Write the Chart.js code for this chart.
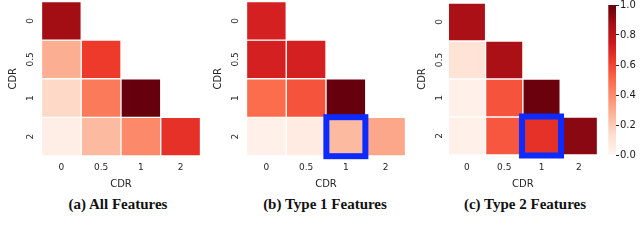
<!DOCTYPE html>
<html>
<head>
<meta charset="utf-8">
<script src="https://cdn.jsdelivr.net/npm/chart.js@4"></script>
<style>
    body { margin: 0; background: #fff; width: 640px; height: 244px; overflow: hidden; position: relative; }
    canvas { position: absolute; }
    .caption {
        position: absolute; top: 197px; width: 200px; text-align: center;
        font: bold 15px/15px "Liberation Serif", serif; color: #111; white-space: nowrap;
    }
</style>
</head>
<body>
<canvas id="chartA" width="205" height="196" style="left:0px;top:0px"></canvas>
<canvas id="chartB" width="205" height="196" style="left:205px;top:0px"></canvas>
<canvas id="chartC" width="190" height="196" style="left:410px;top:0px"></canvas>
<canvas id="colorbar" width="40" height="180" style="left:600px;top:-10px"></canvas>
<div class="caption" style="left:18px">(a) All Features</div>
<div class="caption" style="left:225px">(b) Type 1 Features</div>
<div class="caption" style="left:425px">(c) Type 2 Features</div>
<script>
// CDR levels used on both axes
const cdrLabels = ['0', '0.5', '1', '2'];

// lower triangle, row by row (row = y label, col = x label)
const allFeatures = [
    [0.88],
    [0.29, 0.63],
    [0.15, 0.45, 1.0],
    [0.04, 0.25, 0.40, 0.66],
];
const type1Features = [
    [0.72],
    [0.72, 0.72],
    [0.49, 0.56, 1.0],
    [0.03, 0.06, 0.25, 0.31],
];
const type2Features = [
    [0.86],
    [0.11, 0.86],
    [0.03, 0.56, 0.99],
    [0.03, 0.55, 0.66, 0.93],
];

// highlighted cell [row, col]
const type1Highlight = [3, 2];
const type2Highlight = [3, 2];

const colorbarMin = 0;
const colorbarMax = 1;
const colorbarStep = 0.2;

// matplotlib "Reds"
const REDS = ['#fff5f0', '#fee0d2', '#fcbba1', '#fc9272', '#fb6a4a', '#ef3b2c', '#cb181d', '#a50f15', '#67000d'];
const TEXT = '#262626';

Chart.defaults.font.family = "'DejaVu Sans', sans-serif";
Chart.defaults.color = TEXT;

const hexToRgb = (h) => [1, 3, 5].map(i => parseInt(h.slice(i, i + 2), 16));

const reds = (v) => {
    const t = Math.min(Math.max(v, 0), 1) * (REDS.length - 1);
    const i = Math.min(Math.floor(t), REDS.length - 2);
    const f = t - i;
    const a = hexToRgb(REDS[i]);
    const b = hexToRgb(REDS[i + 1]);
    const c = a.map((x, k) => Math.round(x + (b[k] - x) * f));
    return `rgb(${c[0]},${c[1]},${c[2]})`;
};

const highlightPlugin = (cell) => ({
    id: 'highlight',
    afterDatasetsDraw(chart) {
        if (!cell) return;
        const { ctx, scales: { x, y } } = chart;
        const cx = x.getPixelForValue(cell[1]);
        const cy = y.getPixelForValue(cell[0]);
        ctx.save();
        ctx.strokeStyle = '#0d2bff';
        ctx.lineWidth = 6;
        ctx.strokeRect(cx - 19.5, cy - 19.5, 39, 39);
        ctx.restore();
    },
});

const drawHeatmap = (id, values, cell, geo) => {
    const datasets = values.map((row, r) => ({
        data: cdrLabels.map((_, c) => (c < row.length ? [r - 0.5, r + 0.5] : null)),
        backgroundColor: cdrLabels.map((_, c) => (c < row.length ? reds(row[c]) : 'rgba(0,0,0,0)')),
        borderColor: '#fff',
        borderWidth: 1,
        borderSkipped: false,
        grouped: false,
        categoryPercentage: 1,
        barPercentage: 1,
    }));

    new Chart(document.getElementById(id), {
        type: 'bar',
        data: { labels: cdrLabels, datasets },
        options: {
            responsive: false,
            animation: false,
            layout: { padding: { left: 0, top: geo.top, right: geo.right, bottom: 0 } },
            plugins: { legend: { display: false }, tooltip: { enabled: false } },
            scales: {
                x: {
                    type: 'category',
                    offset: true,
                    grid: { display: false, drawTicks: false },
                    border: { display: false },
                    ticks: { font: { size: 9 }, padding: geo.xPad, maxRotation: 0, autoSkip: false },
                    title: { display: true, text: 'CDR', font: { size: 10 }, padding: { top: 0, bottom: geo.xTitle } },
                    afterFit: (s) => { s.height = geo.xh; s.paddingLeft = 0; s.paddingRight = 0; },
                },
                y: {
                    type: 'linear',
                    min: -0.5,
                    max: 3.5,
                    reverse: true,
                    afterBuildTicks: (s) => { s.ticks = cdrLabels.map((_, i) => ({ value: i })); },
                    grid: { display: false, drawTicks: false },
                    border: { display: false },
                    ticks: {
                        callback: (v) => cdrLabels[v],
                        minRotation: 90,
                        maxRotation: 90,
                        crossAlign: 'center',
                        autoSkip: false,
                        padding: geo.yPad,
                        font: { size: 9 },
                    },
                    title: { display: true, text: 'CDR', font: { size: 10 }, padding: { top: geo.yTitle, bottom: 0 } },
                    afterFit: (s) => { s.width = geo.yw; s.paddingTop = 0; s.paddingBottom = 0; },
                },
            },
        },
        plugins: [highlightPlugin(cell)],
    });
};

drawHeatmap('chartA', allFeatures, null, { top: 1.5, right: 4.5, yw: 41.5, xh: 40, xPad: 6.5, xTitle: 6, yPad: 3.2, yTitle: 7 });
drawHeatmap('chartB', type1Features, type1Highlight, { top: 1.5, right: 4.5, yw: 41.5, xh: 40, xPad: 6.5, xTitle: 6, yPad: 3.2, yTitle: 7 });
drawHeatmap('chartC', type2Features, type2Highlight, { top: 3, right: 2.5, yw: 38.3, xh: 41, xPad: 6.8, xTitle: 5.5, yPad: 1.5, yTitle: 6.3 });

// colorbar
new Chart(document.getElementById('colorbar'), {
    type: 'bar',
    data: {
        labels: [''],
        datasets: [{
            data: [[colorbarMin, colorbarMax]],
            backgroundColor: (context) => {
                const { ctx, chartArea, scales } = context.chart;
                if (!chartArea) return null;
                const y0 = scales.y.getPixelForValue(colorbarMin);
                const y1 = scales.y.getPixelForValue(colorbarMax);
                const g = ctx.createLinearGradient(0, y0, 0, y1);
                REDS.forEach((c, i) => g.addColorStop(i / (REDS.length - 1), c));
                return g;
            },
            borderWidth: 0,
            categoryPercentage: 1,
            barPercentage: 1,
        }],
    },
    options: {
        responsive: false,
        animation: false,
        layout: { padding: { left: 8.3, top: 15, right: 0, bottom: 15 } },
        plugins: { legend: { display: false }, tooltip: { enabled: false } },
        scales: {
            x: { display: false },
            y: {
                position: 'right',
                min: colorbarMin,
                max: colorbarMax,
                ticks: { stepSize: colorbarStep, callback: (v) => v.toFixed(1), font: { size: 10 }, padding: 1, color: '#1a1a1a' },
                grid: { drawOnChartArea: false, drawTicks: true, tickLength: 3, tickColor: TEXT },
                border: { display: false },
                afterFit: (s) => { s.width = 24; s.paddingTop = 0; s.paddingBottom = 0; },
            },
        },
    },
});
</script>
</body>
</html>
